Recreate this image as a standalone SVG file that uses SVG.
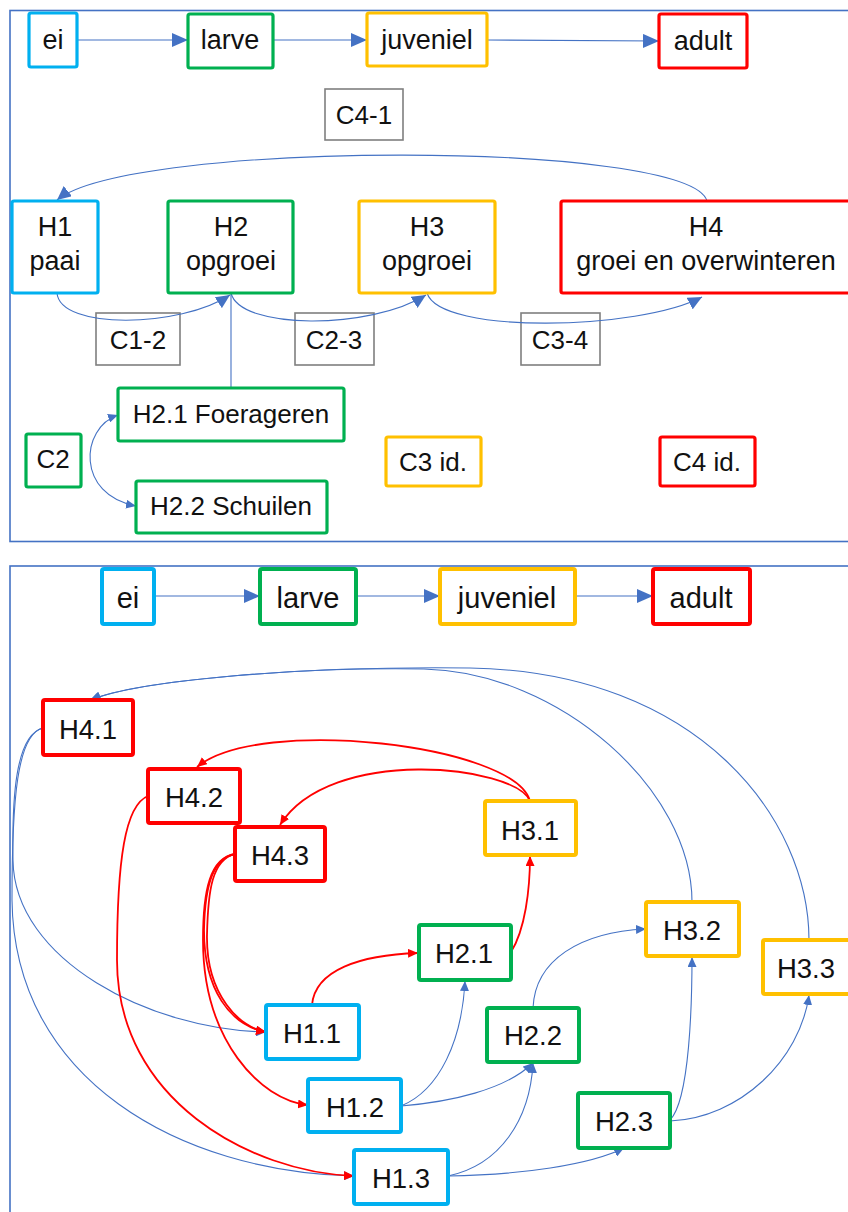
<svg xmlns="http://www.w3.org/2000/svg" width="848" height="1212" viewBox="0 0 848 1212">
<defs>
<style>
text{font-family:"Liberation Sans",Arial,sans-serif;fill:#111;text-anchor:middle}
.t{font-size:27px}
.b{font-size:29px}
.s{font-size:26px}
.h{font-size:27.5px}
.node{fill:#fff;stroke-width:3.2}
.bn{fill:#fff;stroke-width:4}
.cy{stroke:#00B0F0}
.gr{stroke:#00B050}
.ye{stroke:#FFC000}
.rd{stroke:#FF0000}
.lab{fill:none;stroke:#7F7F7F;stroke-width:1.6}
.panel{fill:none;stroke:#4472C4;stroke-width:1.6}
.c{fill:none;stroke:#4472C4;stroke-width:1.1}
.cr{fill:none;stroke:#FF0000;stroke-width:1.8}
</style>
<marker id="ab" markerUnits="userSpaceOnUse" markerWidth="16" markerHeight="14" refX="16" refY="7" orient="auto"><path d="M0,0L16,7L0,14z" fill="#4472C4"/></marker>
<marker id="am" markerUnits="userSpaceOnUse" markerWidth="14" markerHeight="13" refX="14" refY="6.5" orient="auto"><path d="M0,0L14,6.5L0,13z" fill="#4472C4"/></marker>
<marker id="as" markerUnits="userSpaceOnUse" markerWidth="10" markerHeight="9" refX="10" refY="4.5" orient="auto-start-reverse"><path d="M0,0L10,4.5L0,9z" fill="#4472C4"/></marker>
<marker id="ar" markerUnits="userSpaceOnUse" markerWidth="10" markerHeight="9" refX="10" refY="4.5" orient="auto"><path d="M0,0L10,4.5L0,9z" fill="#FF0000"/></marker>
</defs>
<rect width="848" height="1212" fill="#fff"/>
<rect class="panel" x="10" y="10.5" width="850" height="531"/>
<rect class="panel" x="10" y="566" width="850" height="660"/>

<g id="labels-top">
<g id="C4-1"><rect class="lab" x="325" y="89" width="78" height="51"/><text class="s" x="364" y="124">C4-1</text></g>
<g id="C1-2"><rect class="lab" x="96" y="313" width="84" height="52"/><text class="s" x="138" y="349">C1-2</text></g>
<g id="C2-3"><rect class="lab" x="295" y="313" width="79" height="52"/><text class="s" x="334" y="349">C2-3</text></g>
<g id="C3-4"><rect class="lab" x="521" y="313" width="79" height="52"/><text class="s" x="560" y="349">C3-4</text></g>
</g>

<g id="connectors">
<path class="c" d="M77,40L188,40" marker-end="url(#ab)"/>
<path class="c" d="M273,40L367,40" marker-end="url(#ab)"/>
<path class="c" d="M487,40L659,41" marker-end="url(#ab)"/>
<path class="c" d="M707,201C690,140 130,140 57,200" marker-end="url(#am)"/>
<path class="c" d="M57,293C60,330 180,328 230,295" marker-end="url(#am)"/>
<path class="c" d="M231,293C240,330 370,330 426,295" marker-end="url(#am)"/>
<path class="c" d="M427,293C440,335 640,330 702,297" marker-end="url(#am)"/>
<path class="c" d="M231,293L231,388"/>
<path class="c" d="M118,415C80,428 76,495 136,506" marker-start="url(#as)" marker-end="url(#as)"/>

<path class="c" d="M154,596L260,596" marker-end="url(#ab)"/>
<path class="c" d="M356,596L440,596" marker-end="url(#ab)"/>
<path class="c" d="M575,596L653,596" marker-end="url(#ab)"/>

<path class="c" d="M692,902C692,790 560,672 424,669C300,667 140,680 90,700" marker-end="url(#as)"/>
<path class="c" d="M809,940C809,820 700,672 470,668C300,666 140,680 91,700" marker-end="url(#as)"/>
<path class="c" d="M43,728C15,735 12,800 13,860C14,960 150,1030 266,1032" marker-end="url(#as)"/>
<path class="c" d="M43,728C17,734 12,800 12,900C14,1080 180,1172 354,1176" marker-end="url(#as)"/>
<path class="c" d="M401,1106C440,1090 462,1040 465,981" marker-end="url(#as)"/>
<path class="c" d="M401,1106C450,1102 505,1090 533,1063" marker-end="url(#as)"/>
<path class="c" d="M448,1176C500,1165 530,1120 533,1063" marker-end="url(#as)"/>
<path class="c" d="M448,1176C520,1175 590,1165 624,1148" marker-end="url(#as)"/>
<path class="c" d="M533,1008C535,960 580,932 646,929" marker-end="url(#as)"/>
<path class="c" d="M670,1120C690,1100 692,1000 692,957" marker-end="url(#as)"/>
<path class="c" d="M670,1121C740,1118 800,1060 809,995" marker-end="url(#as)"/>

<path class="cr" d="M530,801C515,745 260,715 197,767" marker-end="url(#ar)"/>
<path class="cr" d="M530,801C515,765 330,745 280,825" marker-end="url(#ar)"/>
<path class="cr" d="M511,952C525,930 530,890 530,856" marker-end="url(#ar)"/>
<path class="cr" d="M312,1005C315,970 360,955 418,953" marker-end="url(#ar)"/>
<path class="cr" d="M235,854C215,858 205,880 204,930C204,990 230,1025 266,1032" marker-end="url(#ar)"/>
<path class="cr" d="M235,854C212,860 208,890 207,935C206,995 240,1028 266,1032" marker-end="url(#ar)"/>
<path class="cr" d="M235,854C210,858 203,890 203,940C203,1040 260,1100 308,1105" marker-end="url(#ar)"/>
<path class="cr" d="M148,796C125,805 117,860 117,960C117,1100 250,1172 354,1176" marker-end="url(#ar)"/>
</g>

<g id="ei-top"><rect class="node cy" x="29" y="13" width="48" height="54" rx="2"/><text class="t" x="53" y="49">ei</text></g>
<g id="larve-top"><rect class="node gr" x="188" y="14" width="85" height="54" rx="2"/><text class="t" x="230" y="49">larve</text></g>
<g id="juveniel-top"><rect class="node ye" x="367" y="13" width="120" height="53" rx="2"/><text class="t" x="427" y="49">juveniel</text></g>
<g id="adult-top"><rect class="node rd" x="659" y="14" width="88" height="54" rx="2"/><text class="t" x="703" y="50">adult</text></g>

<g id="H1"><rect class="node cy" x="12" y="201" width="86" height="92" rx="2"/><text class="t" x="55" y="236">H1</text><text class="t" x="55" y="270">paai</text></g>
<g id="H2"><rect class="node gr" x="168" y="201" width="125" height="92" rx="2"/><text class="t" x="231" y="236">H2</text><text class="t" x="231" y="270">opgroei</text></g>
<g id="H3"><rect class="node ye" x="359" y="201" width="136" height="92" rx="2"/><text class="t" x="427" y="236">H3</text><text class="t" x="427" y="270">opgroei</text></g>
<g id="H4"><rect class="node rd" x="561" y="201" width="292" height="92" rx="2"/><text class="t" x="706" y="236">H4</text><text class="t" x="706" y="270">groei en overwinteren</text></g>

<g id="H2.1-top"><rect class="node gr" x="118" y="388" width="226" height="53" rx="2"/><text class="s" x="231" y="423">H2.1 Foerageren</text></g>
<g id="H2.2-top"><rect class="node gr" x="136" y="481" width="191" height="52" rx="2"/><text class="s" x="231" y="515">H2.2 Schuilen</text></g>
<g id="C2"><rect class="node gr" x="26" y="434" width="55" height="53" rx="2"/><text class="s" x="53" y="468">C2</text></g>
<g id="C3id"><rect class="node ye" x="386" y="437" width="95" height="49" rx="2"/><text class="s" x="433" y="471">C3 id.</text></g>
<g id="C4id"><rect class="node rd" x="660" y="437" width="95" height="49" rx="2"/><text class="s" x="707" y="471">C4 id.</text></g>

<g id="ei-bottom"><rect class="bn cy" x="102" y="569" width="52" height="55" rx="2"/><text class="b" x="128" y="608">ei</text></g>
<g id="larve-bottom"><rect class="bn gr" x="260" y="569" width="96" height="55" rx="2"/><text class="b" x="308" y="608">larve</text></g>
<g id="juveniel-bottom"><rect class="bn ye" x="440" y="569" width="135" height="55" rx="2"/><text class="b" x="507" y="608">juveniel</text></g>
<g id="adult-bottom"><rect class="bn rd" x="653" y="569" width="97" height="55" rx="2"/><text class="b" x="701" y="608">adult</text></g>

<g id="H4.1"><rect class="bn rd" x="43" y="700" width="90" height="55" rx="2"/><text class="h" x="88" y="739">H4.1</text></g>
<g id="H4.2"><rect class="bn rd" x="148" y="769" width="92" height="54" rx="2"/><text class="h" x="194" y="807">H4.2</text></g>
<g id="H4.3"><rect class="bn rd" x="235" y="827" width="90" height="54" rx="2"/><text class="h" x="280" y="865">H4.3</text></g>
<g id="H3.1"><rect class="bn ye" x="485" y="801" width="91" height="54" rx="2"/><text class="h" x="530" y="840">H3.1</text></g>
<g id="H3.2"><rect class="bn ye" x="646" y="902" width="93" height="54" rx="2"/><text class="h" x="692" y="940">H3.2</text></g>
<g id="H3.3"><rect class="bn ye" x="763" y="940" width="92" height="54" rx="2"/><text class="h" x="806" y="978">H3.3</text></g>
<g id="H2.1"><rect class="bn gr" x="419" y="925" width="92" height="55" rx="2"/><text class="h" x="464" y="963">H2.1</text></g>
<g id="H2.2"><rect class="bn gr" x="487" y="1008" width="92" height="54" rx="2"/><text class="h" x="533" y="1045">H2.2</text></g>
<g id="H2.3"><rect class="bn gr" x="578" y="1093" width="92" height="55" rx="2"/><text class="h" x="624" y="1131">H2.3</text></g>
<g id="H1.1"><rect class="bn cy" x="266" y="1005" width="93" height="54" rx="2"/><text class="h" x="312" y="1043">H1.1</text></g>
<g id="H1.2"><rect class="bn cy" x="308" y="1079" width="93" height="53" rx="2"/><text class="h" x="355" y="1117">H1.2</text></g>
<g id="H1.3"><rect class="bn cy" x="354" y="1150" width="94" height="54" rx="2"/><text class="h" x="401" y="1188">H1.3</text></g>
</svg>
